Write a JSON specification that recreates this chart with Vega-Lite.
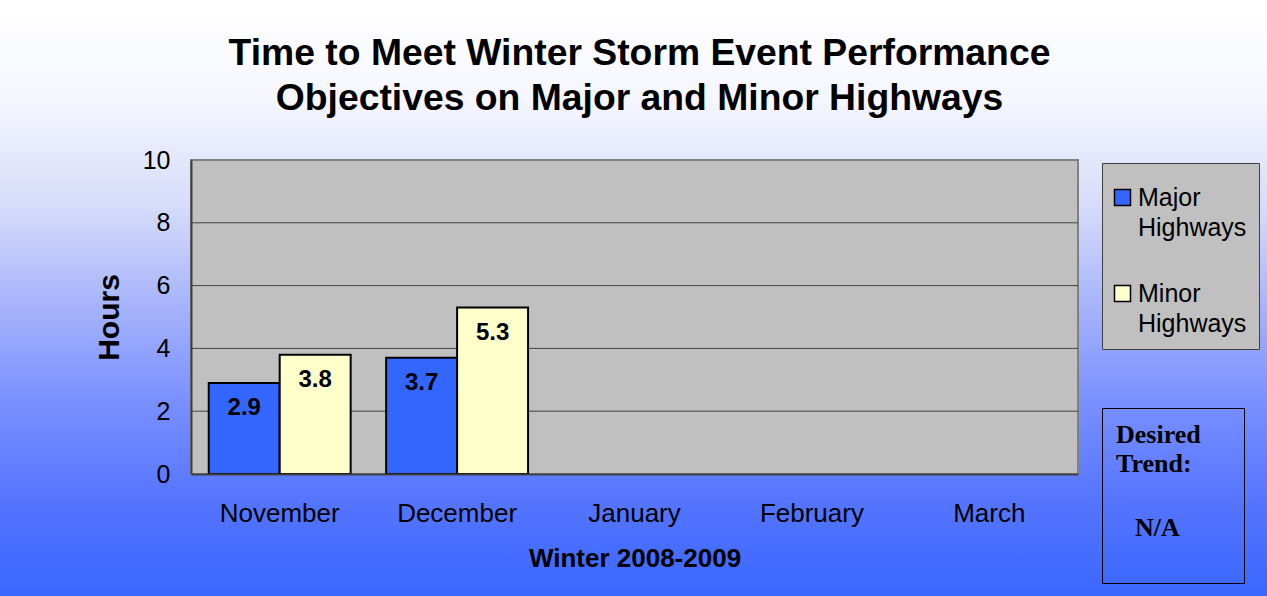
{
  "$schema": "https://vega.github.io/schema/vega-lite/v6.json",
  "width": 887,
  "height": 314,
  "autosize": {"type": "none"},
  "padding": {"left": 191, "top": 160, "right": 189, "bottom": 122},
  "background": "white",
  "title": {
    "text": ["Time to Meet Winter Storm Event Performance", "Objectives on Major and Minor Highways"],
    "font": "Liberation Sans",
    "fontSize": 37.3,
    "fontWeight": "bold",
    "color": "black",
    "lineHeight": 45,
    "anchor": "middle",
    "frame": "group",
    "dx": 5,
    "offset": -149,
    "zindex": 1
  },
  "data": {
    "values": [
      {"Month": "November", "Series": "Major Highways", "Hours": 2.9},
      {"Month": "November", "Series": "Minor Highways", "Hours": 3.8},
      {"Month": "December", "Series": "Major Highways", "Hours": 3.7},
      {"Month": "December", "Series": "Minor Highways", "Hours": 5.3}
    ]
  },
  "layer": [
    {
      "data": {"values": [{"frame": "background"}]},
      "mark": {
        "type": "rect",
        "fill": null,
        "strokeWidth": 382,
        "strokeJoin": "miter",
        "stroke": {
          "gradient": "linear",
          "x1": 0, "y1": -0.484, "x2": 0, "y2": 1.389,
          "stops": [
            {"offset": 0, "color": "#FFFFFF"},
            {"offset": 0.156, "color": "#F5F6FE"},
            {"offset": 0.327, "color": "#D8DEFA"},
            {"offset": 0.497, "color": "#A9B6FB"},
            {"offset": 0.667, "color": "#7A90FF"},
            {"offset": 0.837, "color": "#5575FF"},
            {"offset": 1, "color": "#3A66FF"}
          ]
        }
      },
      "encoding": {}
    },
    {
      "data": {"values": [{"frame": "plot"}]},
      "mark": {"type": "rect", "fill": "#C0C0C0", "stroke": "#808080", "strokeWidth": 2},
      "encoding": {}
    },
    {
      "data": {"values": [{"grid": 2}, {"grid": 4}, {"grid": 6}, {"grid": 8}]},
      "mark": {"type": "rule", "color": "#404040", "strokeWidth": 1},
      "encoding": {"y": {"field": "grid", "type": "quantitative"}}
    },
    {
      "mark": {"type": "bar", "stroke": "black", "strokeWidth": 2},
      "encoding": {
        "x": {
          "field": "Month",
          "type": "nominal",
          "sort": null,
          "scale": {"domain": ["November", "December", "January", "February", "March"], "paddingInner": 0.2, "paddingOuter": 0.1},
          "axis": {
            "title": "Winter 2008-2009",
            "labelAngle": 0,
            "ticks": false,
            "domain": true,
            "domainColor": "#404040",
            "domainWidth": 2,
            "labelFont": "Liberation Sans",
            "labelFontSize": 26,
            "labelColor": "black",
            "labelPadding": 26,
            "titleFont": "Liberation Sans",
            "titleFontSize": 26,
            "titleFontWeight": "bold",
            "titleColor": "black",
            "titlePadding": 19,
            "grid": false,
            "zindex": 1
          }
        },
        "xOffset": {"field": "Series", "type": "nominal", "scale": {"paddingInner": 0, "paddingOuter": 0}},
        "y": {
          "field": "Hours",
          "type": "quantitative",
          "scale": {"domain": [0, 10], "nice": false},
          "axis": {
            "title": "Hours",
            "values": [0, 2, 4, 6, 8, 10],
            "ticks": false,
            "grid": false,
            "domain": true,
            "domainColor": "#404040",
            "domainWidth": 2,
            "labelFont": "Liberation Sans",
            "labelFontSize": 25,
            "labelColor": "black",
            "labelPadding": 21,
            "titleFont": "Liberation Sans",
            "titleFontSize": 30,
            "titleFontWeight": "bold",
            "titleColor": "black",
            "titlePadding": 18,
            "zindex": 1
          }
        },
        "color": {
          "field": "Series",
          "type": "nominal",
          "scale": {"domain": ["Major Highways", "Minor Highways"], "range": ["#3366FF", "#FFFFCC"]},
          "legend": {
            "title": " ",
            "titleFontSize": 10,
            "titlePadding": 0,
            "orient": "none",
            "legendX": 911,
            "legendY": 3,
            "padding": 12,
            "fillColor": "#C0C0C0",
            "strokeColor": "#404040",
            "symbolType": "square",
            "symbolSize": 256,
            "symbolStrokeColor": "black",
            "symbolStrokeWidth": 1.5,
            "symbolOpacity": 1,
            "symbolOffset": -4,
            "labelFont": "Liberation Sans",
            "labelFontSize": 25,
            "labelColor": "black",
            "labelOffset": 3,
            "labelLimit": 300,
            "labelBaseline": "top",
            "labelExpr": "split(datum.label, ' ')",
            "rowPadding": 40,
            "zindex": 1,
            "encode": {"labels": {"update": {"dy": {"value": -12}, "lineHeight": {"value": 30}}}}
          }
        }
      }
    },
    {
      "mark": {"type": "text", "dy": 25, "baseline": "middle", "font": "Liberation Sans", "fontSize": 24, "fontWeight": "bold", "color": "black"},
      "encoding": {
        "x": {"field": "Month", "type": "nominal", "sort": null},
        "xOffset": {"field": "Series", "type": "nominal"},
        "y": {"field": "Hours", "type": "quantitative"},
        "text": {"field": "Hours", "type": "quantitative", "format": ".1f"}
      }
    },
    {
      "data": {"values": [{"Trend": "N/A"}]},
      "mark": {"type": "point", "opacity": 0},
      "encoding": {
        "x": {"datum": "November"},
        "y": {"datum": 0},
        "shape": {
          "field": "Trend",
          "type": "nominal",
          "legend": {
            "title": ["Desired", "Trend:"],
            "orient": "none",
            "legendX": 911,
            "legendY": 248,
            "padding": 14,
            "fillColor": null,
            "strokeColor": "black",
            "titleFont": "Liberation Serif",
            "titleFontSize": 26,
            "titleFontWeight": "bold",
            "titleColor": "black",
            "titleLineHeight": 29,
            "titlePadding": 10,
            "labelFont": "Liberation Serif",
            "labelFontSize": 26,
            "labelFontWeight": "bold",
            "labelColor": "black",
            "labelOffset": -7,
            "labelExpr": "['', datum.label, '\u2800\u2800\u2800\u2800\u2800']",
            "symbolSize": 0,
            "symbolOpacity": 0,
            "symbolStrokeWidth": 0,
            "zindex": 1,
            "encode": {
              "labels": {"update": {"lineHeight": {"value": 8}}}
            }
          }
        }
      }
    }
  ],
  "config": {
    "font": "Liberation Sans",
    "view": {"stroke": null}
  }
}
